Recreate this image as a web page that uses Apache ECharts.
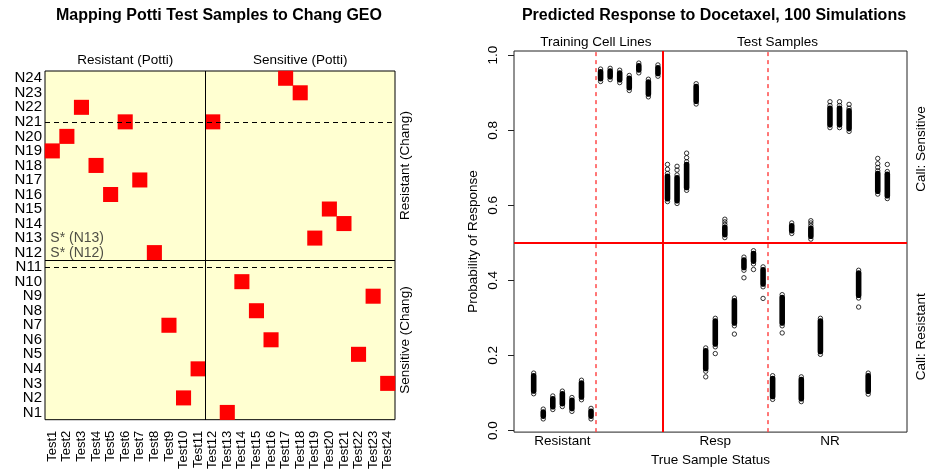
<!DOCTYPE html>
<html>
<head>
<meta charset="utf-8">
<script src="https://cdn.jsdelivr.net/npm/echarts@6/dist/echarts.min.js"></script>
<style>
html,body{margin:0;padding:0;background:#fff;}
#main{width:928px;height:472px;}
</style>
</head>
<body>
<div id="main"></div>
<script>
// ---- left panel: Potti test samples vs Chang GEO samples
var testNames = ['Test1','Test2','Test3','Test4','Test5','Test6','Test7','Test8','Test9','Test10','Test11','Test12',
	'Test13','Test14','Test15','Test16','Test17','Test18','Test19','Test20','Test21','Test22','Test23','Test24'];
var changNames = ['N1','N2','N3','N4','N5','N6','N7','N8','N9','N10','N11','N12',
	'N13','N14','N15','N16','N17','N18','N19','N20','N21','N22','N23','N24'];
// Chang row (N#) matched by each Test sample
var matchRow = [19,20,22,18,16,21,17,12,7,2,4,21,1,10,8,6,24,23,13,15,14,5,9,3];
var starRows = [13,12];
var starLabels = ['S* (N13)','S* (N12)'];
var pottiLabels = ['Resistant (Potti)','Sensitive (Potti)'];
var pottiCenters = [6,18];
var changLabels = ['Sensitive (Chang)','Resistant (Chang)'];
var changCenters = [6,18];

// ---- right panel: 38 samples, 100 simulations each (range of the dense runs)
var simLow  = [0.098,0.031,0.056,0.064,0.051,0.082,0.031,
	0.930,0.935,0.927,0.906,0.953,0.889,0.944,
	0.610,0.605,0.640,0.870,0.158,0.223,0.514,0.279,0.427,0.444,0.383,
	0.083,0.279,0.525,0.077,0.510,0.203,0.807,0.807,0.797,0.353,0.097,0.630,0.618];
var simHigh = [0.153,0.057,0.092,0.105,0.088,0.134,0.059,
	0.963,0.965,0.960,0.946,0.979,0.936,0.974,
	0.685,0.681,0.716,0.924,0.220,0.299,0.549,0.353,0.462,0.479,0.436,
	0.146,0.362,0.553,0.143,0.546,0.299,0.866,0.866,0.859,0.427,0.153,0.692,0.690];
// stray simulations outside the dense runs
var strayCol = [15,15,16,16,17,17,19,20,21,21,22,23,24,25,27,30,30,32,33,34,35,37,37,37,38];
var strayVal = [0.696,0.709,0.694,0.704,0.727,0.739,0.143,0.205,0.556,0.563,0.257,0.407,0.429,0.352,
	0.260,0.553,0.559,0.876,0.876,0.869,0.329,0.701,0.711,0.725,0.709];
var groupLabels = ['Resistant','Resp','NR'];
var groupCenters = [4,20,32];
var sectionLabels = ['Training Cell Lines','Test Samples'];
var sectionCenters = [7.5,26.5];
var callLabels = ['Call: Resistant','Call: Sensitive'];
var callCenters = [0.25,0.75];
var probTicks = [0,0.2,0.4,0.6,0.8,1.0];

var FONT = '"Liberation Sans", Arial, Helvetica, sans-serif';

function pick(labels, centers){
	return function(v){
		for(var i=0;i<centers.length;i++){
			if(Math.abs(centers[i]-v) < 1e-6) return labels[i];
		}
		return '';
	};
}

var heatData = [];
for(var i=0;i<matchRow.length;i++){
	heatData.push([i, matchRow[i]-1, 1]);
}
var starData = [];
for(var s=0;s<starRows.length;s++){
	starData.push({value:[1, starRows[s]], name:starLabels[s]});
}

var barData = [];
var circleData = [];
for(var j=0;j<simLow.length;j++){
	barData.push([j+1, simLow[j], simHigh[j]]);
	circleData.push([j+1, simLow[j]]);
	circleData.push([j+1, simHigh[j]]);
}
for(var k=0;k<strayCol.length;k++){
	circleData.push([strayCol[k], strayVal[k]]);
}

var txt = {color:'#000', fontFamily:FONT, fontSize:13.5};
var noAxis = {show:false};
var noLine = {show:false, onZero:false};

var myChart = echarts.init(document.getElementById('main'));
var option = {
	animation:false,
	textStyle:{fontFamily:FONT},
	title:[
		{text:'Mapping Potti Test Samples to Chang GEO', left:219, top:8, textAlign:'center', padding:0,
			textStyle:{fontSize:16, fontWeight:'bold', color:'#000', fontFamily:FONT}},
		{text:'Predicted Response to Docetaxel, 100 Simulations', left:714, top:8, textAlign:'center', padding:0,
			textStyle:{fontSize:16, fontWeight:'bold', color:'#000', fontFamily:FONT}}
	],
	visualMap:{show:false, seriesIndex:0, min:0, max:1, inRange:{color:['#ff0000','#ff0000']}},
	grid:[
		{left:45, top:71, width:350, height:349, show:true, backgroundColor:'#FFFFD1', borderColor:'#000', borderWidth:1},
		{left:45, top:71, width:350, height:349, show:false},
		{left:514, top:51, width:400, height:389, show:true, borderColor:'#222', borderWidth:1}
	],
	xAxis:[
		{gridIndex:0, type:'category', data:testNames, axisLine:noLine, axisTick:noAxis, splitLine:noAxis,
			axisLabel:Object.assign({rotate:90, interval:0, margin:11}, txt, {fontSize:13})},
		{gridIndex:1, type:'value', min:0.5, max:24.5, position:'top', axisLine:noLine, axisTick:noAxis, splitLine:noAxis,
			axisLabel:Object.assign({customValues:pottiCenters, formatter:pick(pottiLabels, pottiCenters), margin:4}, txt)},
		{gridIndex:2, type:'value', min:-1.06, max:40.06, position:'bottom', axisLine:noLine, axisTick:noAxis, splitLine:noAxis,
			axisLabel:Object.assign({customValues:groupCenters, formatter:pick(groupLabels, groupCenters), margin:2}, txt),
			name:'True Sample Status', nameLocation:'middle', nameGap:17, nameTextStyle:txt},
		{gridIndex:2, type:'value', min:-1.06, max:40.06, position:'top', axisLine:noLine, axisTick:noAxis, splitLine:noAxis,
			axisLabel:Object.assign({customValues:sectionCenters, formatter:pick(sectionLabels, sectionCenters), margin:2}, txt)}
	],
	yAxis:[
		{gridIndex:0, type:'category', data:changNames, axisLine:noLine, axisTick:noAxis, splitLine:noAxis,
			axisLabel:Object.assign({interval:0, margin:3}, txt, {fontSize:15})},
		{gridIndex:1, type:'value', min:0.5, max:24.5, position:'right', axisLine:noLine, axisTick:noAxis, splitLine:noAxis,
			axisLabel:Object.assign({customValues:changCenters, formatter:pick(changLabels, changCenters), rotate:90, margin:3}, txt)},
		{gridIndex:2, type:'value', min:-0.0042, max:1.0112, position:'left', axisLine:noLine, splitLine:noAxis,
			axisTick:{show:true, inside:false, customValues:probTicks, length:6, lineStyle:{color:'#222'}},
			axisLabel:Object.assign({customValues:probTicks, rotate:90, margin:14, formatter:function(v){return v.toFixed(1);}}, txt),
			name:'Probability of Response', nameLocation:'middle', nameRotate:90, nameGap:34, nameTextStyle:txt},
		{gridIndex:2, type:'value', min:-0.0042, max:1.0112, position:'right', axisLine:noLine, axisTick:noAxis, splitLine:noAxis,
			axisLabel:Object.assign({customValues:callCenters, formatter:pick(callLabels, callCenters), rotate:90, margin:7}, txt)}
	],
	series:[
		{
			type:'heatmap', xAxisIndex:0, yAxisIndex:0, data:heatData,
			itemStyle:{color:'#ff0000'}
		},
		{
			type:'scatter', xAxisIndex:1, yAxisIndex:1, data:starData, symbolSize:0, silent:true,
			label:Object.assign({show:true, position:'right', distance:0, offset:[-2,0],
				formatter:function(p){return p.name;}}, txt, {color:'#222', fontSize:14}),
			markLine:{
				silent:true, symbol:'none', label:{show:false},
				data:[
					{xAxis:11.5, lineStyle:{color:'#000', width:1, type:'solid'}},
					{yAxis:11.5, lineStyle:{color:'#000', width:1, type:'solid'}},
					{yAxis:21, lineStyle:{color:'#000', width:1, type:[5,4]}},
					{yAxis:11, lineStyle:{color:'#000', width:1, type:[5,4]}}
				]
			}
		},
		{
			type:'custom', xAxisIndex:2, yAxisIndex:2, data:barData, silent:true,
			encode:{x:0, y:[1,2]},
			renderItem:function(params, api){
				var hi = api.coord([api.value(0), api.value(2)]);
				var lo = api.coord([api.value(0), api.value(1)]);
				return {
					type:'rect',
					shape:{x:hi[0]-2.8, y:hi[1], width:5.6, height:lo[1]-hi[1], r:2.8},
					style:{fill:'#000'}
				};
			}
		},
		{
			type:'scatter', xAxisIndex:2, yAxisIndex:2, data:circleData, silent:true,
			symbol:'circle', symbolSize:4.4,
			itemStyle:{color:'rgba(0,0,0,0)', borderColor:'#000', borderWidth:1},
			markLine:{
				silent:true, symbol:'none', label:{show:false},
				data:[
					{xAxis:7.5, lineStyle:{color:'#ff4a4a', width:1.5, type:[4,4]}},
					{xAxis:25.5, lineStyle:{color:'#ff4a4a', width:1.5, type:[4,4]}},
					{xAxis:14.5, lineStyle:{color:'#ff0000', width:2, type:'solid'}},
					{yAxis:0.5, lineStyle:{color:'#ff0000', width:2, type:'solid'}}
				]
			}
		}
	]
};
myChart.setOption(option);
</script>
</body>
</html>
